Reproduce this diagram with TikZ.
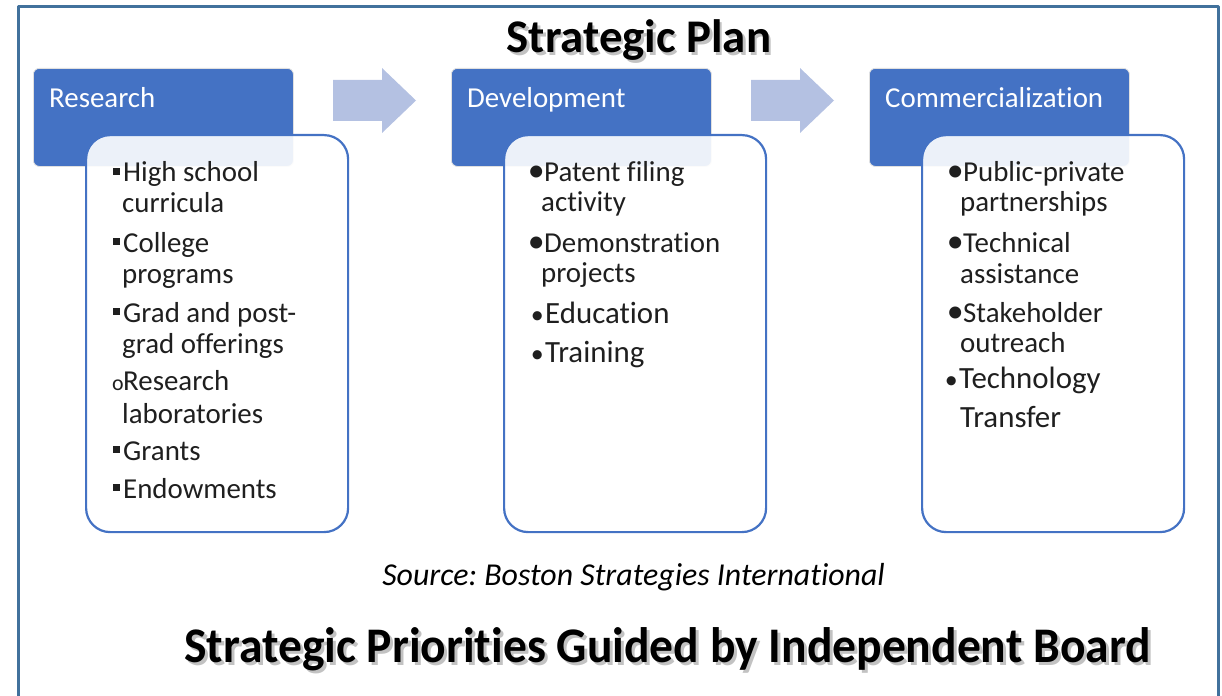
\documentclass[tikz,border=0pt]{standalone}
\usepackage{fontspec}
\setmainfont[Ligatures=NoCommon]{Carlito}
\newfontfamily\titlefont[Ligatures=NoCommon]{Carlito}
\newfontfamily\boardfont[Ligatures=NoCommon,FakeStretch=0.955]{Carlito}
\usetikzlibrary{calc}
\definecolor{HeadBlue}{RGB}{68,114,196}
\definecolor{ArrowBlue}{RGB}{180,193,226}
\definecolor{FrameBlue}{RGB}{65,113,156}
\frenchspacing

% bullet marks (node x = left edge of the mark)
\newcommand{\sqbul}{\makebox[10bp][l]{\rule[7bp]{7bp}{7bp}}}
\newcommand{\ringbul}{\makebox[11bp][l]{{\fontsize{22}{22}\selectfont o}}}
\newcommand{\dotbul}{\makebox[8bp][l]{\makebox[0pt][c]{\fontsize{34}{34}\selectfont•}}}
\newcommand{\smbul}{\makebox[8bp][l]{\makebox[0pt][c]{\fontsize{26}{26}\selectfont•}}}
\newcommand{\bigitem}{\fontsize{31}{31}\selectfont}

\tikzset{
  head/.style={fill=HeadBlue, draw=black!12, line width=0.8bp, rounded corners=6bp,
    minimum width=260bp, minimum height=98bp, anchor=north west, inner sep=0pt},
  panel/.style={fill=white, fill opacity=0.9, draw=HeadBlue, line width=2.2bp,
    rounded corners=24bp, minimum width=262bp, minimum height=397bp,
    anchor=north west, inner sep=0pt},
  headtext/.style={anchor=base west, inner sep=0pt, text=white,
    font=\fontsize{29}{29}\selectfont},
  item/.style={anchor=base west, inner sep=0pt, text=black!88,
    font=\fontsize{29}{29}\selectfont},
  blockarrow/.style={fill=ArrowBlue},
  title/.style={anchor=base, inner sep=0pt, font=\titlefont\bfseries\fontsize{47}{47}\selectfont},
  board/.style={anchor=base, inner sep=0pt, font=\boardfont\bfseries\fontsize{50}{50}\selectfont},
  shade/.style={text=black!60, opacity=0.4}
}

\begin{document}
\begin{tikzpicture}[x=1bp, y=-1bp, line join=round]
  \useasboundingbox (0,0) rectangle (1222,696);

  % outer frame, open at the bottom
  \draw[FrameBlue, line width=3bp] (18,700) -- (18,7) -- (1218,7) -- (1218,700);

  % heading
  \node[title, shade] (planshadow) at (641.5,55.5) {Strategic Plan};
  \node[title] (plan) at (639,53) {Strategic Plan};

  % three stages
  \foreach \k/\dx/\name in {1/0/Research, 2/418/Development, 3/836/Commercialization}{
    \node[head] (head\k) at (33+\dx,68) {};
    \node[headtext] (headtext\k) at ($(head\k.north west)+(16,40)$) {\name};
    \node[panel] (panel\k) at (85+\dx,134) {};
  }

  % arrows between the stages
  \foreach \dx in {0,418}{
    \fill[blockarrow] (333+\dx,80) -- (382+\dx,80) -- (382+\dx,68) -- (416+\dx,100.5)
      -- (382+\dx,133) -- (382+\dx,121) -- (333+\dx,121) -- cycle;
  }

  % Research list
  \foreach \i/\x/\y/\t in {1/113/182/{\sqbul High school}, 2/122/213/{curricula},
      3/113/252/{\sqbul College}, 4/122/283/{programs},
      5/113/322/{\sqbul Grad and post-}, 6/122/353/{grad offerings},
      7/112/390/{\ringbul Research}, 8/122/423/{laboratories},
      9/113/460/{\sqbul Grants}, 10/113/498/{\sqbul Endowments}}{
    \node[item] (res\i) at (\x,\y) {\t};
  }

  % Development list
  \foreach \i/\x/\y/\t in {1/536/182/{\dotbul Patent filing}, 2/541/212/{activity},
      3/536/252/{\dotbul Demonstration}, 4/541/282/{projects},
      5/537/323/{\bigitem\smbul Education}, 6/537/362/{\bigitem\smbul Training}}{
    \node[item] (dev\i) at (\x,\y) {\t};
  }

  % Commercialization list
  \foreach \i/\x/\y/\t in {1/955/182/{\dotbul Public-private}, 2/960/212/{partnerships},
      3/955/252/{\dotbul Technical}, 4/960/283/{assistance},
      5/955/322/{\dotbul Stakeholder}, 6/960/352/{outreach},
      7/951/388/{\bigitem\smbul Technology}, 8/960/427/{\bigitem Transfer}}{
    \node[item] (com\i) at (\x,\y) {\t};
  }

  % source and closing line
  \node[anchor=base, inner sep=0pt, font=\itshape\fontsize{32}{32}\selectfont]
    (source) at (633.5,585) {Source: Boston Strategies International};
  \node[board, shade] (boardshadow) at (670.5,665.5) {Strategic Priorities Guided by Independent Board};
  \node[board] (board) at (667.5,662) {Strategic Priorities Guided by Independent Board};
\end{tikzpicture}
\end{document}
